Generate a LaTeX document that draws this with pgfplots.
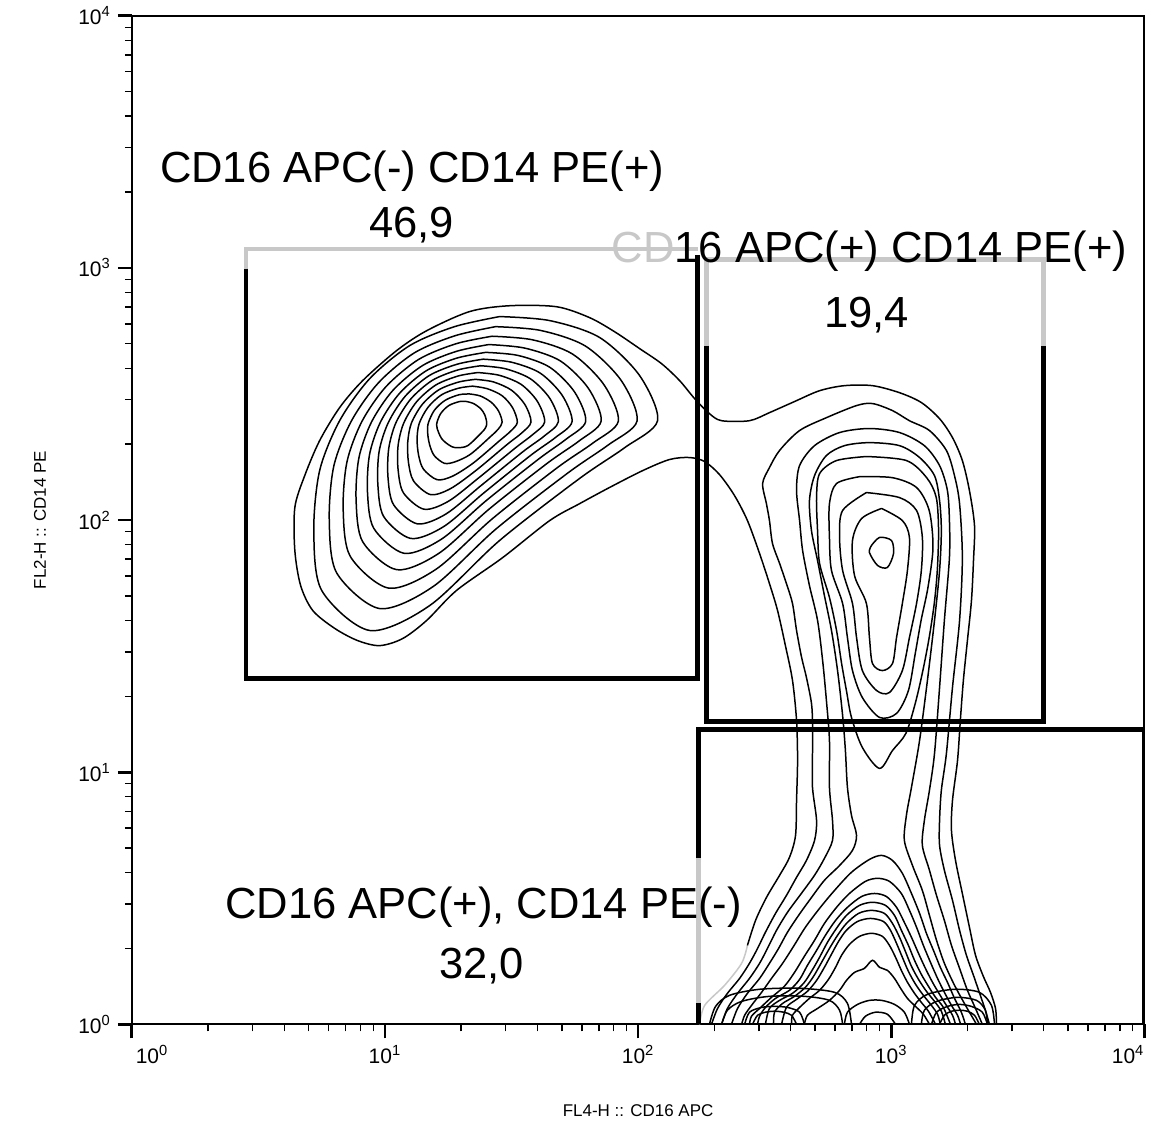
\documentclass[border=0pt]{standalone}
\usepackage{fontspec}
\setmainfont{Liberation Sans}
\usepackage{pgfplots}
\pgfplotsset{compat=1.18}
\definecolor{gategray}{RGB}{200,200,200}
\pgfplotsset{
  cline/.style={black, line width=0.75pt, smooth, mark=none},
  gline/.style={gategray, line width=0.75pt, smooth, mark=none},
  gblack/.style={black, line width=2.2pt, sharp plot, mark=none, line join=miter},
  ggray/.style={gategray, line width=2.2pt, sharp plot, mark=none, line join=miter},
}
\begin{document}
\begin{tikzpicture}
\begin{axis}[
  scale only axis, width=507pt, height=505pt,
  xmin=0, xmax=4, ymin=0, ymax=4,
  clip mode=individual,
  axis line style={line width=0.9pt},
  tick align=outside,
  xtick pos=bottom, ytick pos=left,
  xtick={0,1,2,3,4}, ytick={0,1,2,3,4},
  minor xtick={0.301,0.477,0.602,0.699,0.778,0.845,0.903,0.954,1.301,1.477,1.602,1.699,1.778,1.845,1.903,1.954,2.301,2.477,2.602,2.699,2.778,2.845,2.903,2.954,3.301,3.477,3.602,3.699,3.778,3.845,3.903,3.954},
  minor ytick={0.301,0.477,0.602,0.699,0.778,0.845,0.903,0.954,1.301,1.477,1.602,1.699,1.778,1.845,1.903,1.954,2.301,2.477,2.602,2.699,2.778,2.845,2.903,2.954,3.301,3.477,3.602,3.699,3.778,3.845,3.903,3.954},
  major tick length=7pt, minor tick length=3.5pt,
  tick style={black},
  major tick style={line width=1.4pt},
  minor tick style={line width=0.7pt},
  xticklabels={\makebox[0pt][l]{\hspace{2pt}10\textsuperscript{0}},10\textsuperscript{1},10\textsuperscript{2},10\textsuperscript{3},\makebox[0pt][r]{10\textsuperscript{4}}},
  yticklabels={10\textsuperscript{0},10\textsuperscript{1},10\textsuperscript{2},10\textsuperscript{3},10\textsuperscript{4}},
  ticklabel style={font=\fontsize{10.5}{12}\selectfont},
]
% ---------- outermost contour (all populations) ----------
\addplot[gline] coordinates {(2.243,0.000) (2.263,0.075) (2.342,0.155) (2.409,0.242) (2.432,0.313)};
\addplot[cline] coordinates {(2.432,0.313) (2.464,0.412) (2.507,0.503) (2.559,0.591) (2.598,0.662) (2.622,0.749) (2.626,0.888) (2.630,1.047) (2.626,1.205) (2.610,1.364) (2.582,1.502) (2.551,1.641) (2.519,1.748) (2.480,1.867) (2.432,1.998) (2.381,2.097) (2.322,2.180) (2.263,2.232) (2.203,2.248) (2.124,2.240) (2.018,2.196) (1.887,2.129) (1.769,2.065) (1.651,1.998) (1.465,1.851) (1.283,1.721) (1.165,1.602) (1.070,1.530) (0.979,1.502) (0.892,1.522) (0.802,1.570) (0.715,1.641) (0.667,1.740) (0.644,1.879) (0.644,2.050) (0.683,2.176) (0.742,2.315) (0.821,2.446) (0.912,2.553) (1.046,2.672) (1.165,2.751) (1.335,2.827) (1.493,2.850) (1.678,2.846) (1.808,2.803) (1.907,2.747) (2.006,2.680) (2.093,2.620) (2.164,2.553) (2.223,2.482) (2.282,2.422) (2.330,2.394) (2.440,2.394) (2.519,2.426) (2.618,2.470) (2.717,2.513) (2.815,2.533) (2.926,2.533) (3.033,2.505) (3.119,2.466) (3.191,2.402) (3.242,2.327) (3.281,2.236) (3.309,2.117) (3.329,1.978) (3.325,1.839) (3.317,1.681) (3.301,1.522) (3.285,1.364) (3.273,1.205) (3.262,1.047) (3.242,0.888) (3.238,0.769) (3.254,0.650) (3.281,0.519) (3.309,0.385) (3.333,0.274) (3.364,0.190) (3.392,0.127) (3.412,0.063) (3.416,0.000)};
% ---------- left population (CD16-, CD14+) ----------
\addplot[cline] coordinates {(1.453,2.807) (1.275,2.767) (1.098,2.692) (0.940,2.561) (0.821,2.394) (0.742,2.196) (0.719,1.958) (0.750,1.721) (0.940,1.562) (1.177,1.661) (1.453,1.919) (1.769,2.165) (1.947,2.287) (2.077,2.394) (2.006,2.573) (1.848,2.724) (1.651,2.791) (1.453,2.807)};
\addplot[cline] coordinates {(1.437,2.767) (1.277,2.731) (1.116,2.663) (0.974,2.544) (0.867,2.392) (0.798,2.214) (0.780,2.002) (0.809,1.791) (0.979,1.649) (1.190,1.736) (1.438,1.964) (1.723,2.187) (1.881,2.297) (1.996,2.393) (1.933,2.554) (1.792,2.690) (1.615,2.752) (1.437,2.767)};
\addplot[cline] coordinates {(1.423,2.729) (1.280,2.699) (1.133,2.637) (1.004,2.529) (0.909,2.391) (0.850,2.231) (0.835,2.042) (0.863,1.856) (1.015,1.730) (1.202,1.805) (1.424,2.005) (1.680,2.207) (1.821,2.305) (1.922,2.392) (1.865,2.537) (1.740,2.659) (1.582,2.715) (1.423,2.729)};
\addplot[cline] coordinates {(1.410,2.696) (1.282,2.669) (1.149,2.613) (1.032,2.515) (0.947,2.389) (0.897,2.246) (0.886,2.078) (0.912,1.914) (1.047,1.803) (1.213,1.868) (1.411,2.043) (1.641,2.225) (1.766,2.313) (1.854,2.392) (1.804,2.522) (1.693,2.631) (1.552,2.682) (1.410,2.696)};
\addplot[cline] coordinates {(1.398,2.665) (1.283,2.642) (1.163,2.592) (1.058,2.503) (0.982,2.388) (0.939,2.259) (0.931,2.111) (0.956,1.967) (1.076,1.868) (1.223,1.924) (1.400,2.077) (1.606,2.241) (1.716,2.321) (1.793,2.391) (1.749,2.508) (1.651,2.606) (1.525,2.653) (1.398,2.665)};
\addplot[cline] coordinates {(1.388,2.638) (1.285,2.618) (1.175,2.573) (1.080,2.491) (1.013,2.386) (0.977,2.272) (0.972,2.141) (0.995,2.014) (1.102,1.927) (1.232,1.974) (1.390,2.107) (1.575,2.256) (1.673,2.327) (1.739,2.390) (1.700,2.495) (1.613,2.583) (1.500,2.626) (1.388,2.638)};
\addplot[cline] coordinates {(1.378,2.612) (1.287,2.595) (1.187,2.554) (1.102,2.480) (1.043,2.385) (1.015,2.284) (1.012,2.170) (1.034,2.061) (1.128,1.985) (1.241,2.024) (1.380,2.137) (1.545,2.271) (1.629,2.333) (1.685,2.390) (1.651,2.483) (1.575,2.560) (1.476,2.600) (1.378,2.612)};
\addplot[cline] coordinates {(1.367,2.585) (1.288,2.571) (1.200,2.535) (1.125,2.469) (1.074,2.384) (1.052,2.296) (1.052,2.199) (1.073,2.108) (1.154,2.043) (1.250,2.074) (1.370,2.167) (1.514,2.285) (1.585,2.340) (1.631,2.389) (1.602,2.471) (1.538,2.538) (1.452,2.574) (1.367,2.585)};
\addplot[cline] coordinates {(1.357,2.558) (1.290,2.547) (1.212,2.516) (1.147,2.458) (1.104,2.383) (1.090,2.308) (1.093,2.228) (1.113,2.155) (1.180,2.101) (1.258,2.124) (1.360,2.197) (1.483,2.300) (1.541,2.346) (1.577,2.389) (1.553,2.458) (1.500,2.515) (1.428,2.548) (1.357,2.558)};
\addplot[cline] coordinates {(1.346,2.531) (1.291,2.523) (1.224,2.497) (1.170,2.447) (1.135,2.382) (1.127,2.320) (1.133,2.257) (1.152,2.202) (1.206,2.160) (1.267,2.174) (1.350,2.227) (1.452,2.314) (1.497,2.353) (1.523,2.388) (1.504,2.446) (1.463,2.493) (1.404,2.521) (1.346,2.531)};
\addplot[cline] coordinates {(1.335,2.500) (1.293,2.497) (1.238,2.475) (1.195,2.435) (1.170,2.380) (1.170,2.333) (1.179,2.290) (1.196,2.254) (1.235,2.225) (1.277,2.231) (1.338,2.261) (1.417,2.331) (1.447,2.360) (1.463,2.388) (1.449,2.432) (1.420,2.467) (1.377,2.492) (1.335,2.500)};
\addplot[cline] coordinates {(1.323,2.470) (1.295,2.470) (1.252,2.454) (1.220,2.422) (1.204,2.379) (1.212,2.347) (1.224,2.323) (1.240,2.307) (1.264,2.291) (1.287,2.287) (1.327,2.295) (1.382,2.347) (1.398,2.367) (1.402,2.387) (1.394,2.418) (1.378,2.442) (1.350,2.462) (1.323,2.470)};
% ---------- shared contours (right upper + bottom) ----------
\addplot[cline] coordinates {(2.290,0) (2.314,0.063) (2.353,0.123) (2.401,0.182) (2.440,0.242) (2.472,0.301) (2.503,0.365) (2.543,0.440) (2.586,0.511) (2.626,0.583) (2.665,0.650) (2.697,0.729) (2.705,0.809) (2.689,0.940) (2.689,1.074) (2.689,1.193) (2.685,1.273) (2.665,1.376) (2.646,1.455) (2.626,1.562) (2.610,1.669) (2.586,1.748) (2.559,1.828) (2.531,1.907) (2.519,1.998) (2.507,2.065) (2.492,2.145) (2.519,2.208) (2.559,2.276) (2.638,2.355) (2.744,2.406) (2.863,2.454) (2.926,2.462) (3.005,2.434) (3.072,2.394) (3.151,2.355) (3.218,2.276) (3.250,2.176) (3.270,2.065) (3.281,1.851) (3.270,1.602) (3.242,1.336) (3.218,1.074) (3.198,0.928) (3.191,0.809) (3.191,0.710) (3.210,0.611) (3.242,0.492) (3.270,0.373) (3.297,0.274) (3.325,0.194) (3.352,0.115) (3.372,0.056) (3.388,0)};
\addplot[cline] coordinates {(2.330,0) (2.353,0.063) (2.393,0.123) (2.440,0.182) (2.480,0.242) (2.511,0.301) (2.547,0.373) (2.590,0.444) (2.642,0.515) (2.697,0.591) (2.736,0.658) (2.768,0.729) (2.768,0.809) (2.756,0.940) (2.756,1.126) (2.744,1.284) (2.729,1.443) (2.709,1.602) (2.677,1.740) (2.650,1.879) (2.638,1.998) (2.626,2.117) (2.638,2.216) (2.697,2.295) (2.796,2.347) (2.914,2.363) (3.033,2.347) (3.131,2.295) (3.191,2.216) (3.222,2.117) (3.230,1.998) (3.230,1.851) (3.210,1.602) (3.191,1.336) (3.171,1.074) (3.151,0.928) (3.131,0.809) (3.123,0.710) (3.151,0.611) (3.179,0.511) (3.210,0.412) (3.238,0.313) (3.270,0.222) (3.301,0.135) (3.333,0.063) (3.360,0)};
\addplot[cline] coordinates {(2.369,0) (2.393,0.063) (2.432,0.123) (2.480,0.182) (2.519,0.242) (2.555,0.301) (2.590,0.365) (2.634,0.432) (2.685,0.503) (2.736,0.571) (2.796,0.630) (2.847,0.690) (2.863,0.749) (2.843,0.829) (2.827,0.940) (2.819,1.086) (2.808,1.225) (2.788,1.403) (2.764,1.562) (2.736,1.701) (2.709,1.839) (2.685,1.958) (2.677,2.077) (2.697,2.176) (2.744,2.256) (2.815,2.295) (2.914,2.307) (3.033,2.295) (3.112,2.248) (3.171,2.176) (3.191,2.077) (3.198,1.958) (3.191,1.800) (3.171,1.602) (3.143,1.364) (3.112,1.126) (3.080,0.940) (3.060,0.829) (3.052,0.729) (3.084,0.630) (3.123,0.531) (3.151,0.432) (3.179,0.333) (3.210,0.242) (3.250,0.155) (3.289,0.083) (3.337,0)};
% ---------- right upper population (CD16+, CD14+) ----------
\addplot[cline] coordinates {(2.902,2.252) (3.060,2.236) (3.140,2.168) (3.178,2.089) (3.187,1.958) (3.182,1.800) (3.170,1.669) (3.150,1.534) (3.125,1.403) (3.095,1.273) (3.058,1.154) (3.005,1.086) (2.954,1.015) (2.886,1.098) (2.843,1.217) (2.823,1.324) (2.804,1.431) (2.784,1.562) (2.756,1.693) (2.717,1.828) (2.709,1.958) (2.705,2.089) (2.717,2.184) (2.784,2.236) (2.902,2.252)};
\addplot[cline] coordinates {(2.875,2.172) (3.005,2.168) (3.100,2.129) (3.150,2.038) (3.165,1.891) (3.145,1.732) (3.118,1.602) (3.095,1.471) (3.068,1.324) (3.021,1.233) (2.954,1.217) (2.886,1.296) (2.847,1.403) (2.827,1.534) (2.808,1.669) (2.764,1.800) (2.756,1.931) (2.756,2.065) (2.784,2.145) (2.875,2.172)};
\addplot[cline] coordinates {(2.902,2.109) (3.033,2.089) (3.100,2.038) (3.123,1.931) (3.119,1.800) (3.100,1.669) (3.072,1.534) (3.044,1.403) (2.993,1.316) (2.942,1.324) (2.886,1.403) (2.863,1.534) (2.847,1.669) (2.808,1.800) (2.796,1.931) (2.808,2.038) (2.902,2.109)};
\addplot[cline] coordinates {(2.962,2.046) (3.044,1.998) (3.072,1.931) (3.064,1.800) (3.044,1.669) (3.021,1.534) (3.005,1.431) (2.965,1.403) (2.926,1.431) (2.914,1.534) (2.902,1.669) (2.855,1.780) (2.847,1.919) (2.883,2.006) (2.962,2.046)};
\addplot[cline] coordinates {(2.922,1.899) (2.954,1.931) (3.001,1.919) (3.009,1.867) (2.985,1.812) (2.946,1.820) (2.914,1.871) (2.922,1.899)};
% ---------- bottom population (CD16+, CD14-) ----------
\addplot[cline] coordinates {(2.409,0) (2.421,0.036) (2.448,0.075) (2.488,0.127) (2.527,0.182) (2.571,0.242) (2.614,0.309) (2.661,0.385) (2.717,0.460) (2.776,0.531) (2.843,0.603) (2.914,0.654) (2.962,0.670) (3.005,0.650) (3.044,0.599) (3.080,0.519) (3.112,0.440) (3.139,0.361) (3.167,0.293) (3.194,0.226) (3.222,0.167) (3.250,0.103) (3.277,0.048) (3.293,0)};
\addplot[cline] coordinates {(2.440,0) (2.448,0.032) (2.480,0.063) (2.527,0.107) (2.578,0.151) (2.618,0.206) (2.657,0.270) (2.697,0.333) (2.736,0.400) (2.784,0.464) (2.835,0.519) (2.898,0.567) (2.946,0.579) (2.993,0.567) (3.040,0.519) (3.072,0.452) (3.100,0.385) (3.127,0.313) (3.155,0.246) (3.183,0.182) (3.210,0.127) (3.238,0.075) (3.262,0.036) (3.274,0)};
\addplot[cline] coordinates {(2.472,0) (2.480,0.032) (2.503,0.067) (2.543,0.103) (2.598,0.135) (2.638,0.178) (2.669,0.234) (2.705,0.293) (2.740,0.353) (2.780,0.412) (2.827,0.464) (2.883,0.507) (2.934,0.519) (2.981,0.507) (3.021,0.464) (3.052,0.404) (3.080,0.345) (3.108,0.281) (3.135,0.222) (3.163,0.167) (3.191,0.119) (3.218,0.075) (3.242,0.036) (3.254,0)};
\addplot[cline] coordinates {(2.503,0) (2.519,0.063) (2.559,0.095) (2.610,0.123) (2.654,0.163) (2.685,0.210) (2.717,0.266) (2.748,0.325) (2.784,0.381) (2.823,0.432) (2.875,0.472) (2.926,0.484) (2.977,0.472) (3.013,0.432) (3.040,0.373) (3.068,0.313) (3.092,0.254) (3.119,0.198) (3.147,0.151) (3.175,0.107) (3.206,0.067) (3.234,0)};
\addplot[cline] coordinates {(2.535,0) (2.539,0.048) (2.571,0.083) (2.618,0.111) (2.661,0.147) (2.693,0.190) (2.725,0.246) (2.756,0.301) (2.788,0.353) (2.823,0.400) (2.871,0.440) (2.922,0.452) (2.973,0.440) (3.005,0.400) (3.033,0.345) (3.056,0.289) (3.080,0.230) (3.108,0.178) (3.139,0.131) (3.171,0.091) (3.198,0.052) (3.214,0)};
\addplot[cline] coordinates {(2.567,0) (2.586,0.067) (2.626,0.099) (2.669,0.131) (2.705,0.174) (2.736,0.226) (2.764,0.278) (2.792,0.329) (2.823,0.373) (2.867,0.408) (2.918,0.420) (2.969,0.408) (2.997,0.373) (3.021,0.321) (3.044,0.266) (3.068,0.210) (3.096,0.159) (3.127,0.115) (3.159,0.075) (3.183,0.040) (3.194,0)};
\addplot[cline] coordinates {(2.606,0) (2.610,0.036) (2.638,0.067) (2.677,0.103) (2.717,0.135) (2.752,0.178) (2.780,0.226) (2.804,0.274) (2.835,0.317) (2.875,0.349) (2.922,0.361) (2.965,0.349) (2.993,0.313) (3.017,0.266) (3.040,0.214) (3.064,0.167) (3.092,0.123) (3.119,0.087) (3.147,0.052) (3.175,0)};
\addplot[cline] coordinates {(2.657,0) (2.669,0.036) (2.709,0.063) (2.756,0.095) (2.796,0.135) (2.823,0.174) (2.855,0.206) (2.894,0.222) (2.926,0.254) (2.954,0.226) (2.985,0.214) (3.013,0.182) (3.037,0.143) (3.064,0.103) (3.096,0.071) (3.127,0.040) (3.151,0)};
\addplot[cline] coordinates {(2.815,0) (2.827,0.048) (2.867,0.079) (2.914,0.095) (2.962,0.095) (3.013,0.079) (3.052,0.048) (3.072,0)};
\addplot[cline] coordinates {(2.875,0) (2.898,0.032) (2.938,0.048) (2.985,0.040) (3.017,0)};
\addplot[cline] coordinates {(2.282,0) (2.306,0.071) (2.361,0.115) (2.480,0.139) (2.638,0.143) (2.776,0.127) (2.827,0.083) (2.843,0)};
\addplot[cline] coordinates {(2.330,0) (2.353,0.056) (2.409,0.091) (2.519,0.111) (2.657,0.111) (2.756,0.095) (2.796,0.056) (2.808,0)};
\addplot[cline] coordinates {(2.421,0) (2.440,0.048) (2.488,0.067) (2.539,0.071) (2.590,0.067) (2.638,0.048) (2.657,0)};
\addplot[cline] coordinates {(2.452,0) (2.472,0.036) (2.503,0.048) (2.539,0.052) (2.575,0.048) (2.606,0.036) (2.626,0)};
\addplot[cline] coordinates {(3.080,0) (3.092,0.075) (3.143,0.119) (3.250,0.139) (3.348,0.127) (3.396,0.075) (3.408,0)};
\addplot[cline] coordinates {(3.119,0) (3.131,0.056) (3.179,0.091) (3.262,0.107) (3.337,0.095) (3.372,0.056) (3.380,0)};
\addplot[cline] coordinates {(3.159,0) (3.179,0.048) (3.222,0.071) (3.270,0.079) (3.317,0.071) (3.360,0.048) (3.380,0)};
\addplot[cline] coordinates {(3.191,0) (3.210,0.036) (3.238,0.052) (3.270,0.056) (3.301,0.052) (3.329,0.036) (3.348,0)};
% ---------- gates ----------
\addplot[ggray] coordinates {(0.450,2.997) (0.450,3.076) (2.235,3.076)};
\addplot[gblack] coordinates {(0.450,2.997) (0.450,1.372) (2.235,1.372) (2.235,3.052)};
\addplot[ggray] coordinates {(2.270,2.692) (2.270,3.033) (3.601,3.033) (3.601,2.692)};
\addplot[gblack] coordinates {(2.270,2.692) (2.270,1.201) (3.601,1.201) (3.601,2.692)};
\addplot[gblack] coordinates {(2.239,0.658) (2.239,1.169) (4.000,1.169) (4.000,0)};
\addplot[ggray] coordinates {(2.239,0.083) (2.239,0.658)};
\addplot[gblack] coordinates {(2.239,0) (2.239,0.083)};
% ---------- gate labels ----------
\node[anchor=base, font=\fontsize{21.8}{26}\selectfont] at (axis cs:1.108,3.339) {CD16 APC(-) CD14 PE(+)};
\node[anchor=base, font=\fontsize{21.8}{26}\selectfont] at (axis cs:1.106,3.120) {46,9};
\node[anchor=base, font=\fontsize{21.8}{26}\selectfont] at (axis cs:2.914,3.021) {\textcolor{gategray}{CD}16 APC(+) CD14 PE(+)};
\node[anchor=base, font=\fontsize{21.8}{26}\selectfont] at (axis cs:2.902,2.763) {19,4};
\node[anchor=base, font=\fontsize{21.8}{26}\selectfont] at (axis cs:1.390,0.420) {CD16 APC(+), CD14 PE(-)};
\node[anchor=base, font=\fontsize{21.8}{26}\selectfont] at (axis cs:1.382,0.182) {32,0};
% ---------- axis titles ----------
\node[rotate=90, font=\fontsize{8.5}{10}\selectfont] at ([xshift=-46pt]rel axis cs:0,0.5) {FL2-H :: CD14 PE};
\node[font=\fontsize{8.5}{10}\selectfont] at ([yshift=-43pt]rel axis cs:0.5,0) {FL4-H :: CD16 APC};
\end{axis}
\path ([shift={(-66pt,-49pt)}]current axis.south west) rectangle ([shift={(2.5pt,7pt)}]current axis.north east);
\end{tikzpicture}
\end{document}
